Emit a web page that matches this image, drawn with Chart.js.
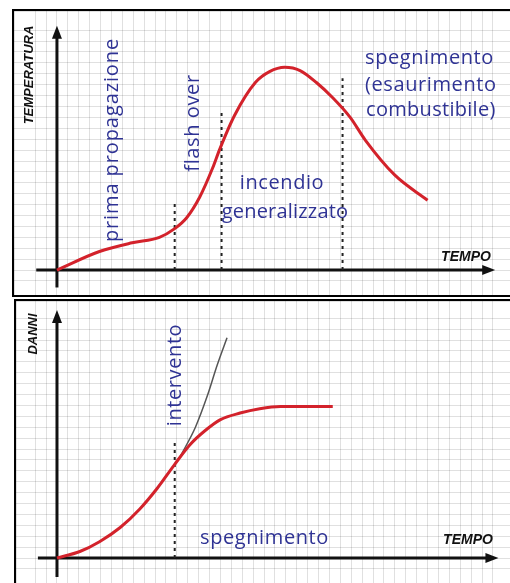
<!DOCTYPE html>
<html>
<head>
<meta charset="utf-8">
<script src="https://cdn.jsdelivr.net/npm/chart.js@4.4.1/dist/chart.umd.min.js"></script>
<style>
html, body { margin: 0; padding: 0; background: #fff; }
body { width: 510px; height: 583px; position: relative; overflow: hidden; }
.panel { position: absolute; border: 2px solid #000; border-right: none; background: #fff; }
#topPanel { left: 12px; top: 9px; width: 496px; height: 284px; }
#bottomPanel { left: 14px; top: 299px; width: 494px; height: 290px; border-bottom: none; }
canvas { display: block; }
</style>
</head>
<body>
<div class="panel" id="topPanel"><canvas id="tempChart" width="496" height="284"></canvas></div>
<div class="panel" id="bottomPanel"><canvas id="damageChart" width="494" height="282"></canvas></div>
<script>
/* ==========================================
   Fasi dell'incendio - temperatura e danni
========================================== */

// ---------------------------
// Data
// ---------------------------

// temperatura / tempo
const tempTime  = [0, 3.9, 6.9, 9.4, 10.8, 11.9, 13.1, 14.3, 14.9, 16.3, 18.2, 19.5, 20.9, 22.3, 23.8, 25.3, 26.9, 28.3, 31.0, 34.0];
const tempValue = [0, 1.7, 2.5, 3.0, 3.8, 4.8, 6.7, 9.4, 11.0, 14.2, 17.2, 18.2, 18.6, 18.3, 17.2, 15.8, 14.0, 11.9, 8.7, 6.4];

// limiti delle fasi (linee tratteggiate)
const phaseTime = [10.8, 15.1, 26.2];
const phaseTop  = [6.2, 14.7, 17.6];

// danni / tempo con intervento
const damageTime  = [0, 2.1, 3.9, 5.8, 7.6, 9.2, 10.8, 12.2, 13.6, 15.0, 16.8, 18.6, 20.5, 25.3];
const damageValue = [0, 0.6, 1.5, 2.8, 4.5, 6.4, 8.6, 10.4, 11.7, 12.7, 13.3, 13.7, 13.9, 13.9];

// danni senza intervento
const freeTime  = [11.3, 12.7, 13.8, 14.7, 15.6];
const freeValue = [9.3, 12.0, 14.9, 17.7, 20.2];

const interventTime = [10.8];
const interventTop  = [10.8];

const BLUE = "#2f3394";
const RED = "#d3222b";
const GRID = "rgba(0,0,0,0.12)";
const LABEL_FONT = '500 20px "Open Sans"';
const AXIS_FONT = 'italic bold 13px "Liberation Sans"';


// ---------------------------
// Helpers
// ---------------------------

function points(xs, ys) {
    return xs.map(function (v, i) { return { x: v, y: ys[i] }; });
}

function arrow(ctx, x1, y1, x2, y2) {
    const a = Math.atan2(y2 - y1, x2 - x1);
    ctx.beginPath();
    ctx.moveTo(x1, y1);
    ctx.lineTo(x2 - 9 * Math.cos(a), y2 - 9 * Math.sin(a));
    ctx.stroke();
    ctx.beginPath();
    ctx.moveTo(x2, y2);
    ctx.lineTo(x2 - 13 * Math.cos(a) + 5 * Math.sin(a), y2 - 13 * Math.sin(a) - 5 * Math.cos(a));
    ctx.lineTo(x2 - 13 * Math.cos(a) - 5 * Math.sin(a), y2 - 13 * Math.sin(a) + 5 * Math.cos(a));
    ctx.closePath();
    ctx.fill();
}

const sketchPlugin = {

    id: "sketch",

    beforeDatasetsDraw(chart, args, opts) {
        const { ctx } = chart;
        const x = chart.scales.x, y = chart.scales.y;
        const x0 = x.getPixelForValue(0), y0 = y.getPixelForValue(0);
        ctx.save();
        ctx.strokeStyle = "#111";
        ctx.fillStyle = "#111";
        ctx.lineWidth = 3;
        arrow(ctx, x.getPixelForValue(opts.xFrom), y0, x.getPixelForValue(opts.xTo), y0);
        arrow(ctx, x0, y.getPixelForValue(opts.yFrom), x0, y.getPixelForValue(opts.yTo));
        ctx.restore();
    },

    afterDatasetsDraw(chart, args, opts) {
        const { ctx } = chart;
        opts.labels.forEach(function (l) {
            ctx.save();
            ctx.translate(l.x, l.y);
            if (l.rotate) ctx.rotate(-Math.PI / 2);
            ctx.font = l.font || LABEL_FONT;
            ctx.fillStyle = l.color || BLUE;
            ctx.letterSpacing = l.spacing || "0.6px";
            ctx.textAlign = l.align || "center";
            ctx.textBaseline = "middle";
            ctx.fillText(l.text, 0, 0);
            ctx.restore();
        });
    }

};

function paperScales(xMin, xMax, yMin, yMax) {
    const axis = function (min, max) {
        return {
            type: "linear",
            min: min,
            max: max,
            ticks: { display: false, stepSize: 1 },
            grid: { color: GRID, lineWidth: 1, drawTicks: false },
            border: { display: false }
        };
    };
    return { x: axis(xMin, xMax), y: axis(yMin, yMax) };
}


// ---------------------------
// Temperatura
// ---------------------------

const tempCanvas = document.getElementById("tempChart");

if (tempCanvas) {

    const datasets = [{
        data: points(tempTime, tempValue),
        borderColor: RED,
        borderWidth: 3,
        pointRadius: 0,
        cubicInterpolationMode: "monotone",
        fill: false
    }];

    phaseTime.forEach(function (t, i) {
        datasets.push({
            data: points([t, t], [0, phaseTop[i]]),
            borderColor: "#222",
            borderWidth: 2,
            borderDash: [3, 4],
            pointRadius: 0,
            fill: false
        });
    });

    new Chart(tempCanvas, {
        type: "line",
        data: { datasets: datasets },
        options: {
            responsive: false,
            animation: false,
            events: [],
            layout: { padding: 0 },
            scales: paperScales(-3.94, 41.56, -2.29, 23.76),
            plugins: {
                legend: { display: false },
                tooltip: { enabled: false },
                sketch: {
                    xFrom: -1.9, xTo: 40.2, yFrom: -1.6, yTo: 22.4,
                    labels: [
                        { text: "TEMPERATURA", x: 15, y: 64, rotate: true, font: AXIS_FONT, color: "#111", spacing: "0px" },
                        { text: "prima propagazione", x: 98, y: 129, rotate: true, spacing: "0.9px" },
                        { text: "flash over", x: 179, y: 112, rotate: true },
                        { text: "incendio", x: 268, y: 172 },
                        { text: "generalizzato", x: 271, y: 201, spacing: "0.2px" },
                        { text: "spegnimento", x: 351, y: 47, align: "left" },
                        { text: "(esaurimento", x: 351, y: 74, align: "left" },
                        { text: "combustibile)", x: 352, y: 99, align: "left", spacing: "0.3px" },
                        { text: "TEMPO", x: 452, y: 246, font: 'italic bold 14px "Liberation Sans"', color: "#111", spacing: "0px" }
                    ]
                }
            }
        },
        plugins: [sketchPlugin]
    });

}


// ---------------------------
// Danni
// ---------------------------

const damageCanvas = document.getElementById("damageChart");

if (damageCanvas) {

    new Chart(damageCanvas, {
        type: "line",
        data: {
            datasets: [
                {
                    data: points(damageTime, damageValue),
                    borderColor: RED,
                    borderWidth: 3,
                    pointRadius: 0,
                    cubicInterpolationMode: "monotone",
                    fill: false
                },
                {
                    data: points(freeTime, freeValue),
                    borderColor: "#555",
                    borderWidth: 1.5,
                    pointRadius: 0,
                    cubicInterpolationMode: "monotone",
                    fill: false
                },
                {
                    data: points([interventTime[0], interventTime[0]], [0, interventTop[0]]),
                    borderColor: "#222",
                    borderWidth: 2,
                    borderDash: [3, 4],
                    pointRadius: 0,
                    fill: false
                }
            ]
        },
        options: {
            responsive: false,
            animation: false,
            events: [],
            layout: { padding: 0 },
            scales: paperScales(-3.76, 41.56, -2.29, 23.58),
            plugins: {
                legend: { display: false },
                tooltip: { enabled: false },
                sketch: {
                    xFrom: -1.75, xTo: 40.5, yFrom: -1.75, yTo: 22.75,
                    labels: [
                        { text: "DANNI", x: 17, y: 33, rotate: true, font: AXIS_FONT, color: "#111", spacing: "0px" },
                        { text: "intervento", x: 159, y: 74, rotate: true },
                        { text: "spegnimento", x: 184, y: 237, align: "left" },
                        { text: "TEMPO", x: 452, y: 239, font: 'italic bold 14px "Liberation Sans"', color: "#111", spacing: "0px" }
                    ]
                }
            }
        },
        plugins: [sketchPlugin]
    });

}
</script>
</body>
</html>
